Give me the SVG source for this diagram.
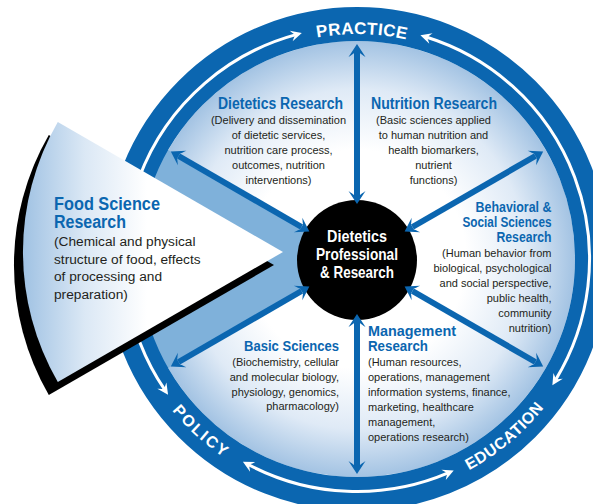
<svg xmlns="http://www.w3.org/2000/svg" width="593" height="504" viewBox="0 0 593 504">
  <defs>
    <style>
      .t { font-family: "Liberation Sans", Arial, sans-serif; font-weight: bold; fill: #0b66b0; }
      .b { font-family: "Liberation Sans", Arial, sans-serif; font-size: 11px; fill: #231f20; }
      .fb { font-family: "Liberation Sans", Arial, sans-serif; font-size: 13.7px; fill: #231f20; }
      .c { font-family: "Liberation Sans", Arial, sans-serif; font-weight: bold; font-size: 16.5px; fill: #ffffff; }
      .rl { font-family: "Liberation Sans", Arial, sans-serif; font-weight: bold; fill: #ffffff; }
      .spoke { stroke: #0b66b0; stroke-width: 6; fill: none; marker-start: url(#bh); marker-end: url(#bh); }
      .warc { stroke: #ffffff; stroke-width: 3; fill: none; marker-start: url(#wh); marker-end: url(#wh); }
    </style>
    <radialGradient id="inner" gradientUnits="userSpaceOnUse" cx="357" cy="259" r="218">
      <stop offset="0" stop-color="#ffffff"/>
      <stop offset="0.5" stop-color="#ffffff"/>
      <stop offset="0.78" stop-color="#dfeaf6"/>
      <stop offset="1" stop-color="#a3c3e3"/>
    </radialGradient>
    <linearGradient id="wedgeg" gradientUnits="userSpaceOnUse" x1="23" y1="0" x2="200" y2="0">
      <stop offset="0" stop-color="#a0c2e3"/>
      <stop offset="0.35" stop-color="#dbe8f5"/>
      <stop offset="0.7" stop-color="#ffffff"/>
    </linearGradient>
    <marker id="bh" markerUnits="userSpaceOnUse" markerWidth="30" markerHeight="30" refX="0" refY="0" viewBox="-10 -15 30 30" orient="auto-start-reverse" overflow="visible">
      <path d="M9,0 L-4,-8.5 Q-1,-4 0,-3 L0,3 Q-1,4 -4,8.5 Z" fill="#0b66b0"/>
    </marker>
    <marker id="wh" markerUnits="userSpaceOnUse" markerWidth="20" markerHeight="20" refX="0" refY="0" viewBox="-10 -10 20 20" orient="auto-start-reverse" overflow="visible">
      <path d="M6,0 L-5,-5.5 Q-3,-2.5 -2,-1.5 L-2,1.5 Q-3,2.5 -5,5.5 Z" fill="#ffffff"/>
    </marker>
    <path id="topArc" d="M132,259 A225,225 0 0 1 582,259"/>
    <path id="botArc" d="M118,259 A239,239 0 0 0 596,259"/>
  </defs>

  <g id="wheel">
    <circle cx="357" cy="259" r="218" fill="url(#inner)"/>
    <path d="M357,259 L166.5,149 A220,220 0 0 0 166.5,369 Z" fill="#7fb1da"/>
    <circle cx="357" cy="259" r="235" fill="none" stroke="#0b66b0" stroke-width="34"/>
  </g>

  <g id="cycle-arrows">
    <path class="warc" d="M296.04,34.64 A232.5,232.5 0 0 0 164.7,389.7"/>
    <path class="warc" d="M426.15,37.0 A232.5,232.5 0 0 1 555.5,380.1"/>
    <path class="warc" d="M248.2,464.5 A232.5,232.5 0 0 0 448.2,472.9"/>
  </g>

  <g id="practice">
    <text class="rl" font-size="17" letter-spacing="0.4"><textPath href="#topArc" startOffset="50.7%" text-anchor="middle">PRACTICE</textPath></text>
  </g>
  <g id="policy">
    <text class="rl" font-size="16" letter-spacing="2"><textPath href="#botArc" startOffset="26.6%" text-anchor="middle">POLICY</textPath></text>
  </g>
  <g id="education">
    <text class="rl" font-size="16" letter-spacing="0.5"><textPath href="#botArc" startOffset="72.1%" text-anchor="middle">EDUCATION</textPath></text>
  </g>

  <g id="food-science-research">
    <path d="M283,252 L57.8,122 A260,260 0 0 0 57.8,382 Z" fill="#000000" transform="translate(-9,13)"/>
    <path d="M283,252 L57.8,122 A260,260 0 0 0 57.8,382 Z" fill="url(#wedgeg)"/>
    <text class="t" font-size="18" x="54" y="210" textLength="106" lengthAdjust="spacingAndGlyphs">Food Science</text>
    <text class="t" font-size="18" x="54" y="228" textLength="72" lengthAdjust="spacingAndGlyphs">Research</text>
    <text class="fb" x="54" y="246">(Chemical and physical</text>
    <text class="fb" x="54" y="263.5">structure of food, effects</text>
    <text class="fb" x="54" y="281">of processing and</text>
    <text class="fb" x="54" y="298.5">preparation)</text>
  </g>

  <g id="center">
    <circle cx="357" cy="260" r="60" fill="#000000"/>
  </g>

  <g id="connectors">
    <line class="spoke" x1="357" y1="195" x2="357" y2="53"/>
    <line class="spoke" x1="357" y1="323" x2="357" y2="465"/>
    <line class="spoke" x1="412.43" y1="227" x2="535.4" y2="156"/>
    <line class="spoke" x1="412.43" y1="291" x2="535.4" y2="362"/>
    <line class="spoke" x1="301.57" y1="291" x2="178.6" y2="362"/>
    <line class="spoke" x1="301.57" y1="227" x2="178.6" y2="156"/>
  </g>

  <g id="center-label">
    <text class="c" x="357" y="241.5" text-anchor="middle" textLength="60" lengthAdjust="spacingAndGlyphs">Dietetics</text>
    <text class="c" x="357" y="259.5" text-anchor="middle" textLength="82" lengthAdjust="spacingAndGlyphs">Professional</text>
    <text class="c" x="357" y="278" text-anchor="middle" textLength="74" lengthAdjust="spacingAndGlyphs">&amp; Research</text>
  </g>

  <g id="dietetics-research">
    <text class="t" font-size="16" x="280.5" y="109" text-anchor="middle" textLength="125" lengthAdjust="spacingAndGlyphs">Dietetics Research</text>
    <text class="b" x="278.5" y="124" text-anchor="middle">(Delivery and dissemination</text>
    <text class="b" x="278.5" y="139" text-anchor="middle">of dietetic services,</text>
    <text class="b" x="278.5" y="154" text-anchor="middle">nutrition care process,</text>
    <text class="b" x="278.5" y="169" text-anchor="middle">outcomes, nutrition</text>
    <text class="b" x="278.5" y="184" text-anchor="middle">interventions)</text>
  </g>

  <g id="nutrition-research">
    <text class="t" font-size="16" x="434" y="109" text-anchor="middle" textLength="126" lengthAdjust="spacingAndGlyphs">Nutrition Research</text>
    <text class="b" x="433.5" y="124" text-anchor="middle">(Basic sciences applied</text>
    <text class="b" x="433.5" y="139" text-anchor="middle">to human nutrition and</text>
    <text class="b" x="433.5" y="154" text-anchor="middle">health biomarkers,</text>
    <text class="b" x="433.5" y="169" text-anchor="middle">nutrient</text>
    <text class="b" x="433.5" y="184" text-anchor="middle">functions)</text>
  </g>

  <g id="behavioral-social-sciences-research">
    <text class="t" font-size="14.5" x="551.5" y="211.5" text-anchor="end" textLength="76" lengthAdjust="spacingAndGlyphs">Behavioral &amp;</text>
    <text class="t" font-size="14.5" x="551.5" y="226.5" text-anchor="end" textLength="89" lengthAdjust="spacingAndGlyphs">Social Sciences</text>
    <text class="t" font-size="14.5" x="551.5" y="241.5" text-anchor="end" textLength="55" lengthAdjust="spacingAndGlyphs">Research</text>
    <text class="b" x="551.5" y="256.5" text-anchor="end">(Human behavior from</text>
    <text class="b" x="551.5" y="271.5" text-anchor="end">biological, psychological</text>
    <text class="b" x="551.5" y="286.5" text-anchor="end">and social perspective,</text>
    <text class="b" x="551.5" y="301.5" text-anchor="end">public health,</text>
    <text class="b" x="551.5" y="316.5" text-anchor="end">community</text>
    <text class="b" x="551.5" y="331.5" text-anchor="end">nutrition)</text>
  </g>

  <g id="basic-sciences">
    <text class="t" font-size="15.5" x="339" y="350.5" text-anchor="end" textLength="95" lengthAdjust="spacingAndGlyphs">Basic Sciences</text>
    <text class="b" x="339" y="365.5" text-anchor="end">(Biochemistry, cellular</text>
    <text class="b" x="339" y="380.5" text-anchor="end">and molecular biology,</text>
    <text class="b" x="339" y="395.5" text-anchor="end">physiology, genomics,</text>
    <text class="b" x="339" y="410" text-anchor="end">pharmacology)</text>
  </g>

  <g id="management-research">
    <text class="t" font-size="14.5" x="368" y="335.5" textLength="88" lengthAdjust="spacingAndGlyphs">Management</text>
    <text class="t" font-size="14.5" x="368" y="350.5" textLength="60" lengthAdjust="spacingAndGlyphs">Research</text>
    <text class="b" x="368" y="365.5">(Human resources,</text>
    <text class="b" x="368" y="380.5">operations, management</text>
    <text class="b" x="368" y="395.5">information systems, finance,</text>
    <text class="b" x="368" y="410.5">marketing, healthcare</text>
    <text class="b" x="368" y="425.5">management,</text>
    <text class="b" x="368" y="440.5">operations research)</text>
  </g>
</svg>
